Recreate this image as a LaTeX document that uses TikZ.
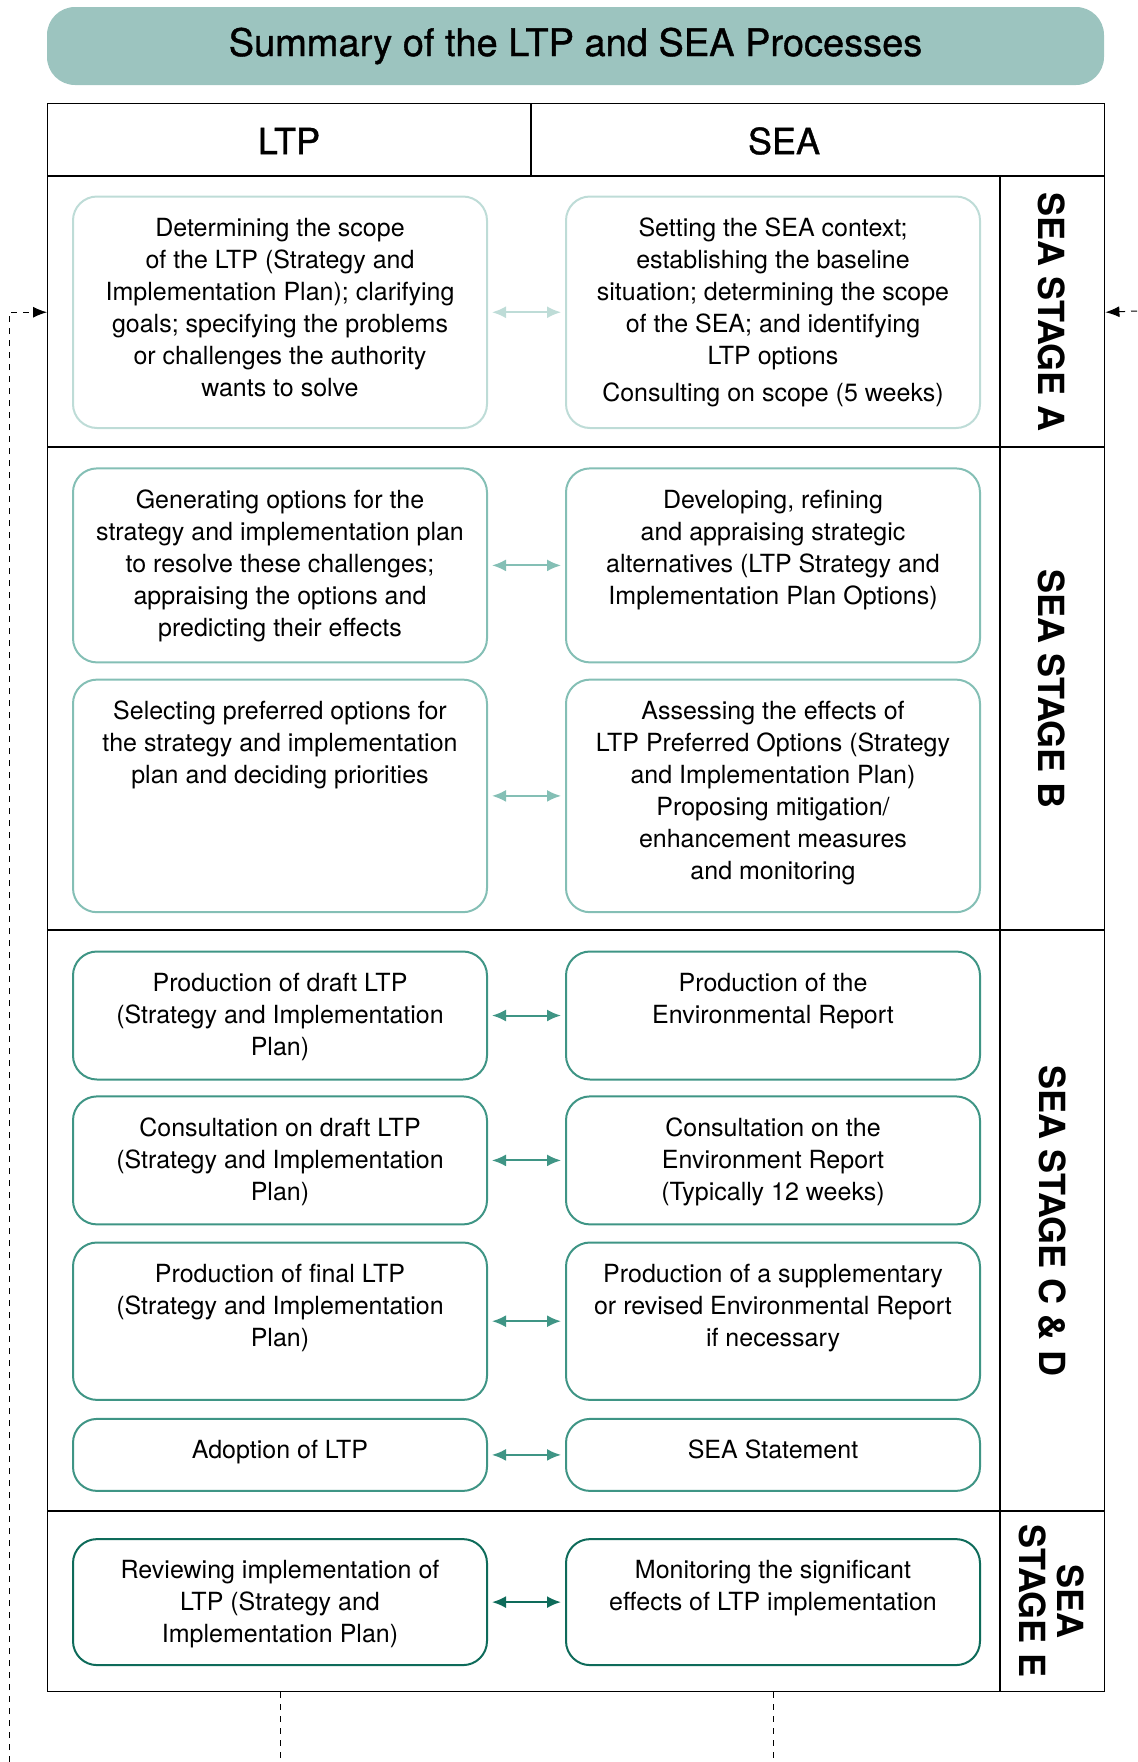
\documentclass[tikz,border=0pt]{standalone}
\usepackage{fontspec}
\setmainfont{TeX Gyre Heros}
\usetikzlibrary{positioning,arrows.meta}

\definecolor{title-fill}{HTML}{9CC4BF}
\definecolor{stage-a}{HTML}{BEDCD7}
\definecolor{stage-b}{HTML}{84BFB5}
\definecolor{stage-c}{HTML}{3F9585}
\definecolor{stage-e}{HTML}{0E6B5A}

\begin{document}
\begin{tikzpicture}[x=0.5pt,y=-0.5pt,
	table-line/.style={draw,line width=0.7pt},
	step-box/.style={draw,line width=1pt,rounded corners=12pt,minimum width=207pt,inner sep=0pt,anchor=north west},
	step-text/.style={inner sep=0pt,align=center,font=\fontsize{12.5}{16}\selectfont},
	head-text/.style={font=\fontsize{18}{20}\selectfont\addfontfeature{FakeBold=1}},
	stage-text/.style={rotate=-90,align=center,font=\fontsize{18}{19}\selectfont\bfseries},
	link/.style={{Latex[length=7pt,width=6pt]}-{Latex[length=7pt,width=6pt]},line width=1pt,shorten <=2pt,shorten >=2pt},
	feedback-line/.style={line width=0.5pt,dash pattern=on 3pt off 3pt},
	feedback/.style={feedback-line,-{Latex[length=7pt,width=5.5pt]}}]
	
	\useasboundingbox (0,0) rectangle (1137,1762);
	
	\node [fill=title-fill,rounded corners=14pt,minimum width=528.5pt,minimum height=39pt,font=\fontsize{19}{22}\selectfont\addfontfeature{FakeBold=1}] (title) at (575.5,46) {Summary of the LTP and SEA Processes};
	
	%%%%%%%%%%%%%%%%%%%%%%%%%%%%%%%%%%%%%%%%%%%%%%%%%%%%%%
	
	\node [table-line,anchor=north west,minimum width=528.5pt,minimum height=794pt,inner sep=0pt] (frame) at (47,103) {};
	\draw [table-line] (47,176) -- (1104,176);
	\draw [table-line] (531,103) -- (531,176);
	\draw [table-line] (1000,176) -- (1000,1691);
	\draw [table-line] (47,447) -- (1104,447);
	\draw [table-line] (47,930) -- (1104,930);
	\draw [table-line] (47,1511) -- (1104,1511);
	
	\node [head-text] (ltp-head) at (289,141) {LTP};
	\node [head-text] (sea-head) at (784,141) {SEA};
	
	\node [stage-text] (stage-a) at (1052,312) {SEA STAGE A};
	\node [stage-text] (stage-b) at (1052,689) {SEA STAGE B};
	\node [stage-text] (stage-cd) at (1052,1221) {SEA STAGE C \& D};
	\node [stage-text] (stage-e) at (1052,1601) {SEA\\STAGE E};
	
	%%%%%%%%%%%%%%%%%%%%%%%%%%%%%%%%%%%%%%%%%%%%%%%%%%%%%%
	
	\node [step-box,draw=stage-a,minimum height=115.75pt] (ltp-scope) at (72,195.5) {};
	\node [step-box,draw=stage-a,minimum height=115.75pt,right=38.5pt of ltp-scope] (sea-context) {};
	\node [step-text,below=11pt of ltp-scope.north] (ltp-scope-text) {Determining the scope\\of the LTP (Strategy and\\Implementation Plan); clarifying\\goals; specifying the problems\\or challenges the authority\\wants to solve};
	\node [step-text,below=11pt of sea-context.north] (sea-context-text) {Setting the SEA context;\\establishing the baseline\\situation; determining the scope\\of the SEA; and identifying\\LTP options\\[2.5pt]Consulting on scope (5 weeks)};
	\draw [link,stage-a] (ltp-scope) -- (sea-context);
	
	%%%%%%%%%%%%%%%%%%%%%%%%%%%%%%%%%%%%%%%%%%%%%%%%%%%%%%
	
	\node [step-box,draw=stage-b,minimum height=97pt] (ltp-options) at (72,467.4) {};
	\node [step-box,draw=stage-b,minimum height=97pt,right=38.5pt of ltp-options] (sea-alternatives) {};
	\node [step-text,below=11pt of ltp-options.north] (ltp-options-text) {Generating options for the\\strategy and implementation plan\\to resolve these challenges;\\appraising the options and\\predicting their effects};
	\node [step-text,below=11pt of sea-alternatives.north] (sea-alternatives-text) {Developing, refining\\and appraising strategic\\alternatives (LTP Strategy and\\Implementation Plan Options)};
	\draw [link,stage-b] (ltp-options) -- (sea-alternatives);
	
	\node [step-box,draw=stage-b,minimum height=116.3pt] (ltp-preferred) at (72,678.6) {};
	\node [step-box,draw=stage-b,minimum height=116.3pt,right=38.5pt of ltp-preferred] (sea-effects) {};
	\node [step-text,below=11pt of ltp-preferred.north] (ltp-preferred-text) {Selecting preferred options for\\the strategy and implementation\\plan and deciding priorities};
	\node [step-text,below=11pt of sea-effects.north] (sea-effects-text) {Assessing the effects of\\LTP Preferred Options (Strategy\\and Implementation Plan)\\Proposing mitigation/\\enhancement measures\\and monitoring};
	\draw [link,stage-b] (ltp-preferred) -- (sea-effects);
	
	%%%%%%%%%%%%%%%%%%%%%%%%%%%%%%%%%%%%%%%%%%%%%%%%%%%%%%
	
	\node [step-box,draw=stage-c,minimum height=64pt] (ltp-draft) at (72,950.5) {};
	\node [step-box,draw=stage-c,minimum height=64pt,right=38.5pt of ltp-draft] (sea-report) {};
	\node [step-text,below=11pt of ltp-draft.north] (ltp-draft-text) {Production of draft LTP\\(Strategy and Implementation\\Plan)};
	\node [step-text,below=11pt of sea-report.north] (sea-report-text) {Production of the\\Environmental Report};
	\draw [link,stage-c] (ltp-draft) -- (sea-report);
	
	\node [step-box,draw=stage-c,minimum height=64pt] (ltp-consult) at (72,1095.4) {};
	\node [step-box,draw=stage-c,minimum height=64pt,right=38.5pt of ltp-consult] (sea-consult) {};
	\node [step-text,below=11pt of ltp-consult.north] (ltp-consult-text) {Consultation on draft LTP\\(Strategy and Implementation\\Plan)};
	\node [step-text,below=11pt of sea-consult.north] (sea-consult-text) {Consultation on the\\Environment Report\\(Typically 12 weeks)};
	\draw [link,stage-c] (ltp-consult) -- (sea-consult);
	
	\node [step-box,draw=stage-c,minimum height=78.7pt] (ltp-final) at (72,1241.5) {};
	\node [step-box,draw=stage-c,minimum height=78.7pt,right=38.5pt of ltp-final] (sea-revised) {};
	\node [step-text,below=11pt of ltp-final.north] (ltp-final-text) {Production of final LTP\\(Strategy and Implementation\\Plan)};
	\node [step-text,below=11pt of sea-revised.north] (sea-revised-text) {Production of a supplementary\\or revised Environmental Report\\if necessary};
	\draw [link,stage-c] (ltp-final) -- (sea-revised);
	
	\node [step-box,draw=stage-c,minimum height=36pt] (ltp-adoption) at (72,1417.9) {};
	\node [step-box,draw=stage-c,minimum height=36pt,right=38.5pt of ltp-adoption] (sea-statement) {};
	\node [step-text,below=11pt of ltp-adoption.north] (ltp-adoption-text) {Adoption of LTP};
	\node [step-text,below=11pt of sea-statement.north] (sea-statement-text) {SEA Statement};
	\draw [link,stage-c] (ltp-adoption) -- (sea-statement);
	
	%%%%%%%%%%%%%%%%%%%%%%%%%%%%%%%%%%%%%%%%%%%%%%%%%%%%%%
	
	\node [step-box,draw=stage-e,minimum height=63pt] (ltp-review) at (72,1538.1) {};
	\node [step-box,draw=stage-e,minimum height=63pt,right=38.5pt of ltp-review] (sea-monitor) {};
	\node [step-text,below=11pt of ltp-review.north] (ltp-review-text) {Reviewing implementation of\\LTP (Strategy and\\Implementation Plan)};
	\node [step-text,below=11pt of sea-monitor.north] (sea-monitor-text) {Monitoring the significant\\effects of LTP implementation};
	\draw [link,stage-e] (ltp-review) -- (sea-monitor);
	
	%%%%%%%%%%%%%%%%%%%%%%%%%%%%%%%%%%%%%%%%%%%%%%%%%%%%%%
	
	\coordinate (loop-start) at (9,1762);
	\coordinate (loop-end) at (1137,311);
	\draw [feedback] (loop-start) |- (frame.west |- ltp-scope.center);
	\draw [feedback] (loop-end) -- (frame.east |- ltp-scope.center);
	\draw [feedback-line] (ltp-review |- frame.south) -- (ltp-review |- loop-start);
	\draw [feedback-line] (sea-monitor |- frame.south) -- (sea-monitor |- loop-start);
	
\end{tikzpicture}
\end{document}
